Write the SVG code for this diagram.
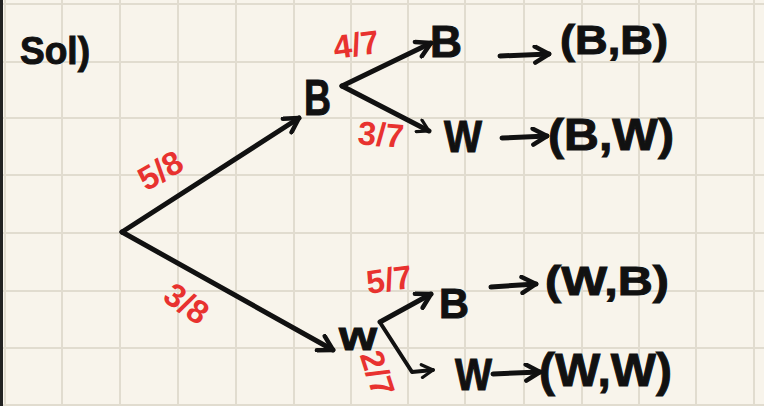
<svg xmlns="http://www.w3.org/2000/svg" width="764" height="406" viewBox="0 0 764 406">
<style>
.grid line{stroke:#e1dccf;stroke-width:2}
.ink{font-family:"Liberation Sans",Arial,sans-serif;font-weight:bold;fill:#111;stroke:#111;stroke-width:1}
.red{font-family:"Liberation Sans",Arial,sans-serif;font-weight:bold;fill:#e8322f;font-size:33px}
.edge{stroke:#111;stroke-width:5;fill:none;stroke-linecap:round}
.thin{stroke:#111;stroke-width:4;fill:none;stroke-linecap:round;stroke-linejoin:round}
</style>
<defs>
<marker id="ah" viewBox="0 0 20 20" refX="17" refY="10" markerWidth="20" markerHeight="20" markerUnits="userSpaceOnUse" orient="auto">
<path d="M3,2 L17,10 L3,18" fill="none" stroke="#111" stroke-width="4.5" stroke-linejoin="round" stroke-linecap="round"/>
</marker>
<marker id="ahs" viewBox="0 0 20 20" refX="17" refY="10" markerWidth="16" markerHeight="16" markerUnits="userSpaceOnUse" orient="auto">
<path d="M3,2 L17,10 L3,18" fill="none" stroke="#111" stroke-width="4" stroke-linejoin="round" stroke-linecap="round"/>
</marker>
</defs>
<rect width="764" height="406" fill="#f8f4eb"/>
<g class="grid">
<line x1="5" y1="0" x2="5" y2="406"/><line x1="62" y1="0" x2="62" y2="406"/><line x1="120" y1="0" x2="120" y2="406"/><line x1="178" y1="0" x2="178" y2="406"/><line x1="236" y1="0" x2="236" y2="406"/><line x1="294" y1="0" x2="294" y2="406"/><line x1="351" y1="0" x2="351" y2="406"/><line x1="408" y1="0" x2="408" y2="406"/><line x1="465" y1="0" x2="465" y2="406"/><line x1="524" y1="0" x2="524" y2="406"/><line x1="582" y1="0" x2="582" y2="406"/><line x1="639" y1="0" x2="639" y2="406"/><line x1="696" y1="0" x2="696" y2="406"/><line x1="754" y1="0" x2="754" y2="406"/>
<line x1="0" y1="4" x2="764" y2="4"/><line x1="0" y1="62" x2="764" y2="62"/><line x1="0" y1="118" x2="764" y2="118"/><line x1="0" y1="175" x2="764" y2="175"/><line x1="0" y1="233" x2="764" y2="233"/><line x1="0" y1="291" x2="764" y2="291"/><line x1="0" y1="348" x2="764" y2="348"/><line x1="0" y1="405" x2="764" y2="405"/>
</g>
<rect x="0" y="0" width="3" height="406" fill="#222"/>
<text class="ink" x="20" y="64" font-size="38" textLength="70" lengthAdjust="spacingAndGlyphs">Sol)</text>
<g id="connectors">
<path class="edge" d="M122,232 L299,118" marker-end="url(#ah)"/>
<path class="edge" d="M122,232 L333,350" marker-end="url(#ah)"/>
<path class="edge" d="M342,86 L431,43" marker-end="url(#ah)"/>
<path class="edge" d="M342,86 L429,131" marker-end="url(#ahs)"/>
<path class="edge" d="M380,322 L431,294" marker-end="url(#ah)"/>
<path class="thin" d="M381,324 L412,372 L433,370" marker-end="url(#ahs)"/>
<path class="edge" d="M500,56 L549,54" marker-end="url(#ah)"/>
<path class="edge" d="M502,138 L547,136" marker-end="url(#ah)"/>
<path class="edge" d="M491,287 L536,284" marker-end="url(#ah)"/>
<path class="edge" d="M493,374 L540,372" marker-end="url(#ah)"/>
</g>
<g id="n-root"></g>
<g id="n-B"><text class="ink" x="304" y="115" font-size="50" textLength="27" lengthAdjust="spacingAndGlyphs">B</text></g>
<g id="n-W"><text class="ink" x="339" y="350" font-size="40" textLength="38" lengthAdjust="spacingAndGlyphs">w</text></g>
<g id="n-BB"><text class="ink" x="430" y="57" font-size="44" textLength="32" lengthAdjust="spacingAndGlyphs">B</text></g>
<g id="n-BW"><text class="ink" x="444" y="152" font-size="44" textLength="38" lengthAdjust="spacingAndGlyphs">W</text></g>
<g id="n-WB"><text class="ink" x="439" y="318" font-size="42" textLength="30" lengthAdjust="spacingAndGlyphs">B</text></g>
<g id="n-WW"><text class="ink" x="455" y="390" font-size="44" textLength="37" lengthAdjust="spacingAndGlyphs">W</text></g>
<g id="o-BB"><text class="ink" x="560" y="54" font-size="40" textLength="108" lengthAdjust="spacingAndGlyphs">(B,B)</text></g>
<g id="o-BW"><text class="ink" x="548" y="150" font-size="44" textLength="126" lengthAdjust="spacingAndGlyphs">(B,W)</text></g>
<g id="o-WB"><text class="ink" x="545" y="295" font-size="40" textLength="124" lengthAdjust="spacingAndGlyphs">(W,B)</text></g>
<g id="o-WW"><text class="ink" x="539" y="386" font-size="46" textLength="133" lengthAdjust="spacingAndGlyphs">(W,W)</text></g>
<g id="labels">
<text class="red" transform="translate(160,170) rotate(-30)" x="0" y="12" text-anchor="middle">5/8</text>
<text class="red" transform="translate(187,303) rotate(35)" x="0" y="12" text-anchor="middle">3/8</text>
<text class="red" transform="translate(356,44) rotate(-8)" x="0" y="12" text-anchor="middle">4/7</text>
<text class="red" transform="translate(381,134) rotate(5)" x="0" y="12" text-anchor="middle">3/7</text>
<text class="red" transform="translate(389,279) rotate(-8)" x="0" y="12" text-anchor="middle">5/7</text>
<text class="red" transform="translate(378,373) rotate(72)" x="0" y="12" text-anchor="middle">2/7</text>
</g>
</svg>
